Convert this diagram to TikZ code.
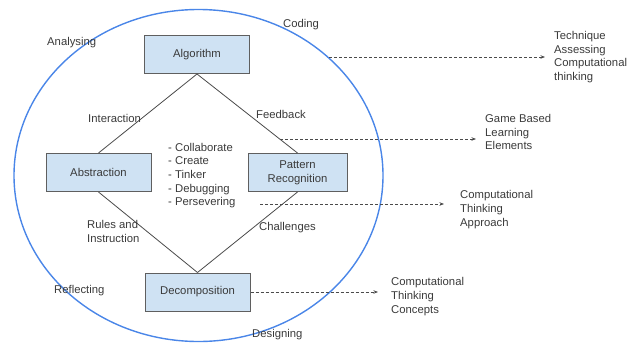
\documentclass[tikz,border=0pt]{standalone}
\usepackage{fontspec}
\setmainfont{Liberation Sans}
\usetikzlibrary{arrows.meta}
\definecolor{boxfill}{HTML}{CFE2F3}
\definecolor{boxline}{HTML}{5F5F5F}
\definecolor{ringblue}{HTML}{4A86E8}
\definecolor{inktext}{HTML}{3A3A3A}
\definecolor{linkgray}{HTML}{4A4A4A}
\begin{document}
\begin{tikzpicture}[x=1pt,y=-1pt,
  every node/.style={font=\fontsize{11.3}{13.7}\selectfont, text=inktext},
  stage/.style={draw=boxline, line width=1pt, fill=boxfill, inner sep=0pt,
                minimum width=105pt, minimum height=38pt, align=center},
  label/.style={inner sep=0pt, anchor=west, align=left},
  link/.style={draw=linkgray, line width=0.8pt},
  pointer/.style={draw=linkgray, line width=0.7pt, dash pattern=on 3pt off 2pt,
                  -{Stealth[length=4.5pt,width=3.5pt]}}]
  \useasboundingbox (0,0) rectangle (629,343);

  % outer cycle
  \draw[ringblue, line width=1.4pt] (198.5,175.5) ellipse [x radius=184.5, y radius=166];

  % the four stages
  \node[stage] (alg) at (197,54.5) {Algorithm};
  \node[stage] (abs) at (98.5,172.5) {Abstraction};
  \node[stage, minimum width=99pt] (pat) at (297.5,172.5) {Pattern\\Recognition};
  \node[stage] (dec) at (197.5,292) {Decomposition};

  % diamond of links
  \draw[link] (alg.south) -- (abs.north);
  \draw[link] (alg.south) -- (pat.north);
  \draw[link] (abs.south) -- (dec.north);
  \draw[link] (pat.south) -- (dec.north);

  % link labels
  \node[label] (interaction) at (88,118.5) {Interaction};
  \node[label] (feedback) at (256,114.5) {Feedback};
  \node[label] (rules) at (87,231.5) {Rules and\\Instruction};
  \node[label] (challenges) at (259,227.5) {Challenges};

  % activities in the middle
  \node[label] (acts) at (168,175.5) {- Collaborate\\- Create\\- Tinker\\- Debugging\\- Persevering};

  % words around the cycle
  \node[label] (analysing) at (47,42.5) {Analysing};
  \node[label] (coding) at (283,24.5) {Coding};
  \node[label] (reflecting) at (54,290.5) {Reflecting};
  \node[label] (designing) at (252,335) {Designing};

  % outcomes on the right
  \node[label] (tech) at (554,57) {Technique\\Assessing\\Computational\\thinking};
  \node[label] (game) at (485,132) {Game Based\\Learning\\Elements};
  \node[label] (approach) at (460,209.5) {Computational\\Thinking\\Approach};
  \node[label] (concepts) at (391,296.5) {Computational\\Thinking\\Concepts};

  % dashed pointers to the outcomes
  \coordinate (p1) at (329,57);
  \coordinate (p2) at (280,139);
  \coordinate (p3) at (260,204);
  \draw[pointer, shorten >=9pt] (p1) -- (p1 -| tech.west);
  \draw[pointer, shorten >=9pt] (p2) -- (p2 -| game.west);
  \draw[pointer, shorten >=16pt] (p3) -- (p3 -| approach.west);
  \draw[pointer, shorten >=13pt] (dec.east) -- (dec.east -| concepts.west);
\end{tikzpicture}
\end{document}
